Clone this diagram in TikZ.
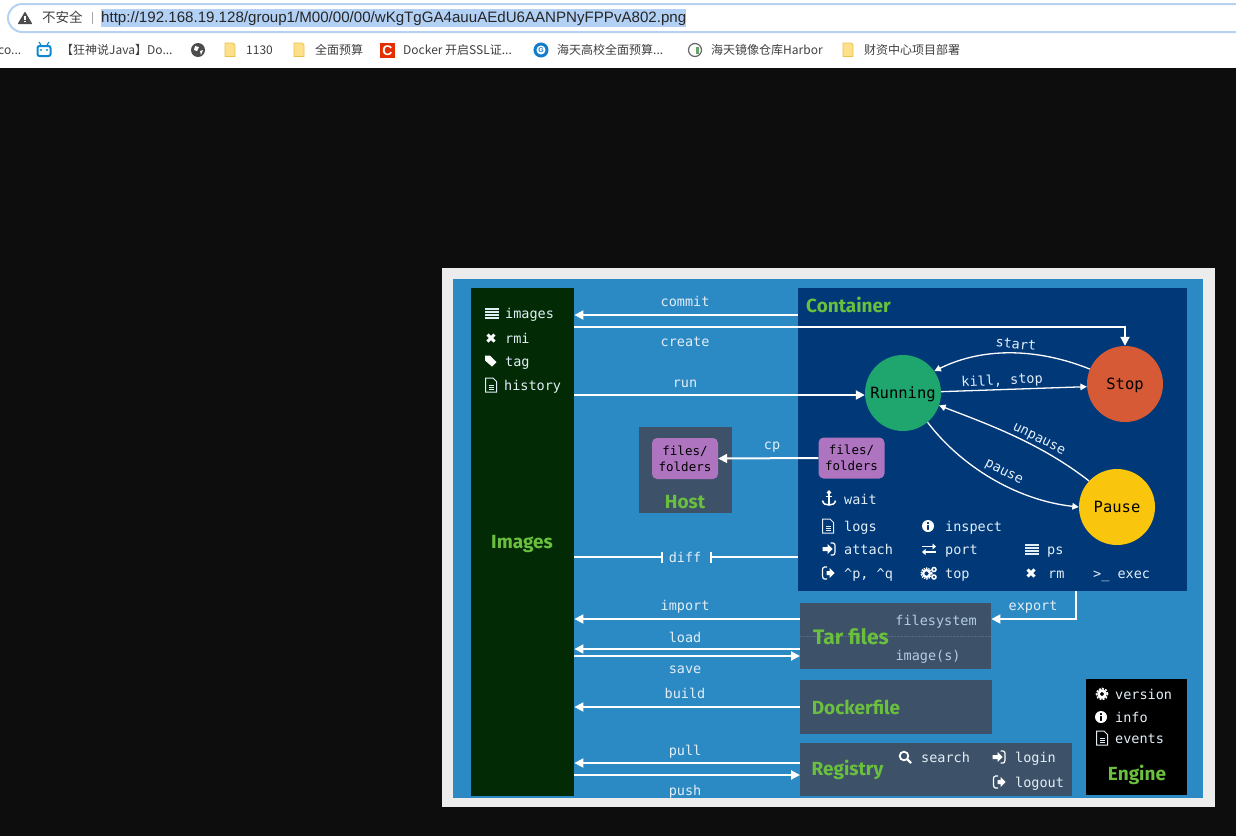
\documentclass[tikz,border=0pt]{standalone}
\usepackage{fontspec}
\setmonofont{DejaVu Sans Mono}
\setsansfont{Fira Sans}
\newfontfamily\cjk{Noto Sans CJK SC}
\newfontfamily\urlfont{Liberation Sans}
\usetikzlibrary{arrows.meta}
\usetikzlibrary{positioning}
\definecolor{pageblack}{HTML}{0D0D0D}
\definecolor{framegrey}{HTML}{ECECEC}
\definecolor{planblue}{HTML}{2B89C4}
\definecolor{imagesgreen}{HTML}{022B05}
\definecolor{containerblue}{HTML}{003878}
\definecolor{slatebox}{HTML}{3D5268}
\definecolor{titlegreen}{HTML}{6ABF3E}
\definecolor{filespurple}{HTML}{AE74C0}
\definecolor{runninggreen}{HTML}{1FA56E}
\definecolor{stopred}{HTML}{D65A36}
\definecolor{pauseyellow}{HTML}{FAC60D}
\definecolor{cmdwhite}{HTML}{E2EEF6}
\definecolor{dimtext}{HTML}{B4CCE2}
\definecolor{pillblue}{HTML}{B7D2F0}
\definecolor{urlselect}{HTML}{B3D0F5}
\definecolor{folderyellow}{HTML}{FEE08A}
\definecolor{foldergold}{HTML}{EAC24A}
% icons of the command lists, each one centred on #1
\newcommand*\iconlist[1]{%
    \begin{scope}[shift={(#1)},cmdwhite]%
        \foreach \r in {-4.5,-1.5,1.5,4.5}%
            \fill (-7,\r-1) rectangle (7,\r+1);%
    \end{scope}%
}
\newcommand*\iconcross[1]{%
    \begin{scope}[shift={(#1)},white,line width=3pt]%
        \draw (-3.5,-3.5) -- (3.5,3.5);%
        \draw (-3.5,3.5) -- (3.5,-3.5);%
    \end{scope}%
}
\newcommand*\icontag[1]{%
    \begin{scope}[shift={(#1)},white]%
        \fill (-6,-5.5) -- (-1,-5.5) -- (5.5,1) -- (1,5.5) -- (-6,-0.5) -- cycle;%
    \end{scope}%
}
\newcommand*\icondoc[1]{%
    \begin{scope}[shift={(#1)},cmdwhite,line width=1pt]%
        \draw (-5.5,-7) -- (2,-7) -- (5.5,-3.5) -- (5.5,7) -- (-5.5,7) -- cycle;%
        \draw (-2.5,0) -- (2.5,0);%
        \draw (-2.5,2) -- (2.5,2);%
        \draw (-2.5,4) -- (2.5,4);%
    \end{scope}%
}
\newcommand*\iconanchor[1]{%
    \begin{scope}[shift={(#1)},white,line width=1.5pt]%
        \draw (0,-6.5) circle (1.3pt);%
        \draw (0,-5) -- (0,6);%
        \draw (-3,-2.5) -- (3,-2.5);%
        \draw (-6.5,1.5) .. controls (-6,5) and (-3,6) .. (0,6) .. controls (3,6) and (6,5) .. (6.5,1.5);%
    \end{scope}%
}
\newcommand*\iconinfo[1]{%
    \begin{scope}[shift={(#1)},white]%
        \fill[even odd rule] (0,0) circle (6pt) (-1.2,-4) rectangle (1.2,-2) (-1.2,-0.8) rectangle (1.2,3.8);%
    \end{scope}%
}
\newcommand*\iconenter[1]{%
    \begin{scope}[shift={(#1)},white]%
        \fill (-6.5,-2) -- (-1.5,-2) -- (-1.5,-5) -- (3.5,0) -- (-1.5,5) -- (-1.5,2) -- (-6.5,2) -- cycle;%
        \draw[line width=1.2pt] (1.5,-6) -- (4,-6) .. controls (6,-6) and (6,-4) .. (6,-3) -- (6,3) .. controls (6,5) and (5,6) .. (4,6) -- (1.5,6);%
    \end{scope}%
}
\newcommand*\iconexit[1]{%
    \begin{scope}[shift={(#1)},white]%
        \fill (-1.5,-2) -- (1.5,-2) -- (1.5,-5) -- (6.5,0) -- (1.5,5) -- (1.5,2) -- (-1.5,2) -- cycle;%
        \draw[line width=1.2pt] (-1,-6) -- (-3.5,-6) .. controls (-5.5,-6) and (-5.5,-4) .. (-5.5,-3) -- (-5.5,3) .. controls (-5.5,5) and (-4.5,6) .. (-3.5,6) -- (-1,6);%
    \end{scope}%
}
\newcommand*\iconswap[1]{%
    \begin{scope}[shift={(#1)},white,line width=1.5pt]%
        \draw[-{Triangle[width=6pt,length=3.5pt]}] (-7,-2.5) -- (7,-2.5);%
        \draw[-{Triangle[width=6pt,length=3.5pt]}] (7,3) -- (-7,3);%
    \end{scope}%
}
\newcommand*\icongears[1]{%
    \begin{scope}[shift={(#1)},white]%
        \draw[line width=2.2pt] (-2.5,0.5) circle (3.4pt);%
        \draw[line width=1.3pt,dash pattern=on 1.5pt off 1pt] (-2.5,0.5) circle (5.5pt);%
        \draw[line width=1.5pt] (5,-3.5) circle (2pt);%
        \draw[line width=1.5pt] (5,4) circle (2pt);%
    \end{scope}%
}
\newcommand*\icongear[1]{%
    \begin{scope}[shift={(#1)},white]%
        \draw[line width=2.6pt] (0,0) circle (3.4pt);%
        \draw[line width=1.6pt,dash pattern=on 2pt off 1.3pt] (0,0) circle (5.6pt);%
    \end{scope}%
}
\newcommand*\iconsearch[1]{%
    \begin{scope}[shift={(#1)},white,line width=1.8pt]%
        \draw (-1,-1) circle (4.3pt);%
        \draw[line width=2.4pt] (2.3,2.3) -- (6,6);%
    \end{scope}%
}
\newcommand*\iconfolder[1]{%
    \begin{scope}[shift={(#1)}]%
        \filldraw[fill=folderyellow,draw=foldergold,line width=.8pt] (-5,-7) -- (3,-7) -- (5,-5) -- (5,6.5) -- (-5,6.5) -- cycle;%
    \end{scope}%
}

\begin{document}
\begin{tikzpicture}
    [%
        x=1pt,y=-1pt,%
        panel/.style={%
            fill=#1,%
            draw=none,%
            inner sep=0pt,%
            anchor=north west%
        },%
        state/.style={%
            circle,%
            fill=#1,%
            minimum size=76pt,%
            inner sep=0pt,%
            text height=10pt,%
            text depth=0pt,%
            font=\ttfamily\fontsize{15.5}{15.5}\selectfont%
        },%
        filesbox/.style={%
            fill=filespurple,%
            rounded corners=5pt,%
            minimum width=66pt,%
            minimum height=41pt,%
            inner sep=0pt,%
            align=center,%
            text=black,%
            font=\ttfamily\fontsize{12.5}{16}\selectfont%
        },%
        boxtitle/.style={%
            text=titlegreen,%
            inner sep=0pt,%
            font=\sffamily\bfseries\fontsize{#1}{#1}\selectfont%
        },%
        boxtitle/.default=19,%
        cmd/.style={%
            text=cmdwhite,%
            inner sep=0pt,%
            text height=13pt,%
            text depth=1.5pt,%
            font=\ttfamily\fontsize{13.5}{13.5}\selectfont%
        },%
        cmdleft/.style={cmd,anchor=west},%
        flow/.style={%
            draw=white,%
            line width=2pt,%
            -{Triangle[width=9pt,length=9pt]}%
        },%
        thinflow/.style={%
            draw=white,%
            line width=1.3pt,%
            -{Triangle[width=6.5pt,length=6.5pt]}%
        },%
        barflow/.style={%
            draw=white,%
            line width=2pt,%
            -{Bar[width=11pt,line width=1.5pt]}%
        },%
        barechrome/.style={%
            inner sep=0pt,%
            anchor=west,%
            text=black!75,%
            text height=10pt,%
            text depth=3pt,%
            font=\cjk\fontsize{12}{12}\selectfont%
        }%
    ]%
    \useasboundingbox (0,0) rectangle (1236,836);
    \fill[pageblack] (0,0) rectangle (1236,836);
%
    % browser bar
    \fill[white] (0,0) rectangle (1236,68);
    \draw[pillblue,line width=2pt,rounded corners=14pt] (1260,4) -- (8,4) -- (8,32) -- (1260,32);
    \fill[urlselect] (101,9) rectangle (686,27);
    \fill[black!70,line join=round,draw=black!70,line width=1pt] (25,12.5) -- (31.5,23.5) -- (18.5,23.5) -- cycle;
    \fill[white] (24.4,15.5) rectangle (25.6,20);
    \fill[white] (24.4,21) rectangle (25.6,22.3);
    \node[barechrome,font=\cjk\fontsize{13.5}{13.5}\selectfont] (notsafe) at (42,19) {不安全};
    \draw[black!35] (92,12) -- (92,24);
    \node[barechrome,text=black!85,font=\urlfont\fontsize{15.1}{15.1}\selectfont] (urltext) at (101,19) {http://192.168.19.128/group1/M00/00/00/wKgTgGA4auuAEdU6AANPNyFPPvA802.png};
%
    % bookmarks
    % \id node name, \x left edge of the text
    \foreach \id/\x/\bookmark in {%
        clipped/-2/{co...},%
        kuangshen/61/{【狂神说Java】Do...},%
        numbered/246/{1130},%
        budget/315/{全面预算},%
        dockerssl/403/{Docker 开启SSL证...},%
        haitian/557/{海天高校全面预算...},%
        harbor/711/{海天镜像仓库Harbor},%
        finance/864/{财资中心项目部署}%
    }{
        \node[barechrome] (mark-\id) at (\x,51) {\bookmark};
    } % \foreach \id/\x/\bookmark
    \foreach \x in {230,299,848} {
        \iconfolder{\x,50}
    }
    \filldraw[fill=white,draw=cyan!70!blue,line width=2pt,rounded corners=2pt] (37.5,46) rectangle (50.5,56);
    \draw[cyan!70!blue,line width=1.2pt] (39,42) -- (41,45);
    \draw[cyan!70!blue,line width=1.2pt] (49,42) -- (47,45);
    \fill[cyan!70!blue] (41,50) circle (1.2pt);
    \fill[cyan!70!blue] (47,50) circle (1.2pt);
    \fill[black!70] (198,50) circle (7pt);
    \fill[white] (195,46) -- (199,47) -- (197,51) -- (194,50) -- cycle;
    \fill[white] (200,51) -- (203,50) -- (201,55) -- cycle;
    \fill[red!60!orange!90!black] (380,43) rectangle (395,58);
    \node[inner sep=0pt,text=white,font=\urlfont\bfseries\fontsize{14}{14}\selectfont] (cicon) at (387.5,50.5) {C};
    \draw[cyan!60!blue,line width=3pt] (541,50) circle (6pt);
    \node[inner sep=0pt,text=cyan!60!blue,font=\urlfont\bfseries\fontsize{7}{7}\selectfont] (gicon) at (541,50) {G};
    \filldraw[fill=white,draw=black!60,line width=1.2pt] (695,50) circle (6.5pt);
    \fill[green!40!black!60] (696,47) rectangle (699,54);
%
    % the plan
    \fill[framegrey] (442,268) rectangle (1215,807);
    \fill[planblue] (453,279) rectangle (1203,798);
%
    % boxes
    \node[panel=imagesgreen,minimum width=103pt,minimum height=508pt] (images) at (471,288) {};
    \node[panel=containerblue,minimum width=389pt,minimum height=303pt] (container) at (798,288) {};
    \node[panel=slatebox,minimum width=93pt,minimum height=86pt] (host) at (639,427) {};
    \node[panel=slatebox,minimum width=191pt,minimum height=66pt] (tarfiles) at (800,603) {};
    \node[panel=slatebox,minimum width=192pt,minimum height=54pt] (dockerfile) at (800,680) {};
    \node[panel=slatebox,minimum width=272pt,minimum height=53pt] (registry) at (800,743) {};
    \node[panel=black,minimum width=101pt,minimum height=116pt] (engine) at (1086,679) {};
    \draw[dimtext!20!slatebox,densely dotted,line width=.4pt] (tarfiles.west |- 0,636) -- (tarfiles.east |- 0,636);
%
    % box titles
    \node[boxtitle] (images-title) at (522,544) {Images};
    \node[boxtitle] (container-title) at (848.5,305) {Container};
    \node[boxtitle] (host-title) at (685,502) {Host};
    \node[boxtitle=21] (tar-title) at (851,637) {Tar files};
    \node[boxtitle] (dockerfile-title) at (856,707) {Dockerfile};
    \node[boxtitle] (registry-title) at (847.5,769.5) {Registry};
    \node[boxtitle] (engine-title) at (1137,775) {Engine};
%
    % states and file boxes
    \node[state=runninggreen] (running) at (903,393) {Running};
    \node[state=stopred] (stop) at (1125,384) {Stop};
    \node[state=pauseyellow] (pause) at (1117,507) {Pause};
    \node[filesbox] (host-files) at (685,458.5) {files/\\folders};
    \node[filesbox] (container-files) at (851.5,458) {files/\\folders};
%
    % command lists
    % \id node name, \icon icon macro, \ix icon x, \x text x
    \foreach \id/\icon/\ix/\x/\y/\cmdtext in {%
        images/\iconlist/492/505/313/{images},%
        rmi/\iconcross/491/505/338/{rmi},%
        tag/\icontag/491/505/361/{tag},%
        history/\icondoc/491/504/385/{history},%
        wait/\iconanchor/829/844/499/{wait},%
        logs/\icondoc/828/844/526/{logs},%
        attach/\iconenter/829/844/549/{attach},%
        detach/\iconexit/828/844/573/{\textasciicircum{}p, \textasciicircum{}q},%
        inspect/\iconinfo/928/945/526/{inspect},%
        port/\iconswap/929/945/549/{port},%
        top/\icongears/929/945/573/{top},%
        ps/\iconlist/1032/1047/549/{ps},%
        rm/\iconcross/1031/1048/573/{rm},%
        search/\iconsearch/905/921/757/{search},%
        login/\iconenter/999/1015/757/{login},%
        logout/\iconexit/999/1015/782/{logout},%
        version/\icongear/1102/1115/694/{version},%
        info/\iconinfo/1101/1115/717/{info},%
        events/\icondoc/1102/1115/738/{events}%
    }{
        \icon{\ix,\y}
        \node[cmdleft] (cmd-\id) at (\x,\y) {\cmdtext};
    } % \foreach \id/\icon/\ix/\x/\y/\cmdtext
    \node[cmdleft] (cmd-exec) at (1093,573) {>\_ exec};
%
    % labels of the connectors
    \foreach \id/\x/\y in {%
        commit/685/301,%
        create/685/341,%
        run/685/382,%
        cp/772/444,%
        import/685/605,%
        load/685/637,%
        save/685/668,%
        build/685/693,%
        pull/685/750,%
        push/685/790,%
        export/1033/605,%
        diff/685/557%
    }{
        \node[cmd] (label-\id) at (\x,\y) {\id};
    } % \foreach \id/\x/\y
    \node[cmd,text=dimtext] (label-filesystem) at (936,620) {filesystem};
    \node[cmd,text=dimtext] (label-imagefile) at (928,655) {image(s)};
    \node[cmd,rotate=-5] (label-start) at (1016,343) {start};
    \node[cmd,rotate=3] (label-kill) at (1002,379) {kill, stop};
    \node[cmd,rotate=-27] (label-unpause) at (1040,437) {unpause};
    \node[cmd,rotate=-27] (label-pause) at (1005,470) {pause};
%
    % connectors
    \draw[flow] (container.west |- 0,315) -- (images.east |- 0,315);
    \draw[flow] (images.east |- 0,327) -- (stop.north |- 0,327) -- (stop.north);
    \draw[flow] (images.east |- 0,395) -- (running.west |- 0,395);
    \draw[flow] (container-files.west) -- (host-files.east);
    \draw[barflow] (images.east |- 0,557) -- ([xshift=-6pt]label-diff.west |- 0,557);
    \draw[barflow] (container.west |- 0,557) -- ([xshift=9pt]label-diff.east |- 0,557);
    \draw[flow] (tarfiles.west |- 0,619) -- (images.east |- 0,619);
    \draw[flow] (tarfiles.west |- 0,649) -- (images.east |- 0,649);
    \draw[flow] (images.east |- 0,656) -- (tarfiles.west |- 0,656);
    \draw[flow] (dockerfile.west |- 0,707) -- (images.east |- 0,707);
    \draw[flow] (registry.west |- 0,763) -- (images.east |- 0,763);
    \draw[flow] (images.east |- 0,775) -- (registry.west |- 0,775);
    \draw[flow] (1076,591) -- (1076,619) -- (tarfiles.east |- 0,619);
    \draw[thinflow] (stop.157) .. controls (1040,349) and (985,346) .. (running.35);
    \draw[thinflow] (running.2) -- (stop.184);
    \draw[thinflow] (pause.137) .. controls (1040,443) and (990,425) .. (running.-19);
    \draw[thinflow] (running.-50) .. controls (960,465) and (1015,500) .. (pause.west);
\end{tikzpicture}
\end{document}
